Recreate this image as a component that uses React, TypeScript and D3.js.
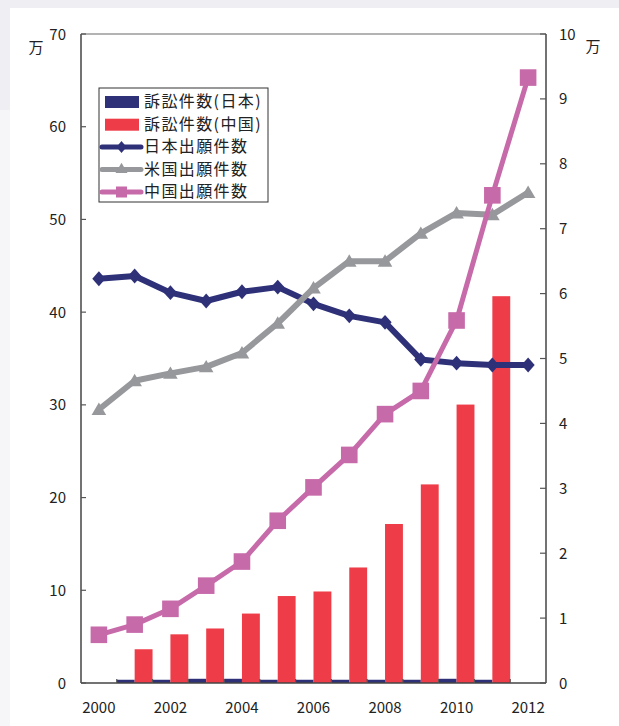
import React from "react";
import * as d3 from "d3";

const years = [2000, 2001, 2002, 2003, 2004, 2005, 2006, 2007, 2008, 2009, 2010, 2011, 2012];
// litigation counts (万, right axis); null = no bar
const suitJapan: (number | null)[] = [null, 0.05, 0.05, 0.065, 0.065, 0.05, 0.05, 0.05, 0.05, 0.05, 0.065, 0.05, null];
const suitChina: (number | null)[] = [null, 0.52, 0.75, 0.84, 1.07, 1.34, 1.41, 1.78, 2.45, 3.06, 4.29, 5.96, null];
// applications (万, left axis)
const appJapan = [43.6, 43.9, 42.1, 41.2, 42.2, 42.7, 40.9, 39.6, 38.9, 34.9, 34.5, 34.3, 34.3];
const appUS = [29.5, 32.6, 33.4, 34.1, 35.6, 38.8, 42.6, 45.5, 45.5, 48.5, 50.7, 50.5, 52.9];
const appChina = [5.2, 6.3, 8.0, 10.5, 13.1, 17.5, 21.1, 24.6, 29.0, 31.5, 39.1, 52.6, 65.3];

const leftTicks = [0, 10, 20, 30, 40, 50, 60, 70];
const rightTicks = [0, 1, 2, 3, 4, 5, 6, 7, 8, 9, 10];
const xTickLabels = [2000, 2002, 2004, 2006, 2008, 2010, 2012];

const legendLabels = ["訴訟件数(日本)", "訴訟件数(中国)", "日本出願件数", "米国出願件数", "中国出願件数"];

const NAVY = "#2e3178";
const RED = "#ee3d48";
const GRAY = "#97989c";
const PINK = "#c76aaa";
const FONT = "'Noto Sans CJK JP', 'Noto Sans', sans-serif";

const W = 619, H = 726;
const L = 81, R = 546, T = 34, B = 683;

export default function App() {
  const x = d3.scaleBand<number>().domain(years).range([L, R]).padding(0);
  const bw = x.bandwidth();
  const inner = d3.scaleBand<string>().domain(["jp", "cn"]).range([0, bw]).padding(0);
  const yL = d3.scaleLinear().domain([0, 70]).range([B, T]);
  const yR = d3.scaleLinear().domain([0, 10]).range([B, T]);
  const cx = (y: number) => (x(y) as number) + bw / 2;

  const line = (vals: number[]) =>
    d3.line<number>().x((_, i) => cx(years[i])).y((v) => yL(v))(vals) as string;

  const diamond = (px: number, py: number, w = 6.6, h = 7.4) =>
    `M${px},${py - h}L${px + w},${py}L${px},${py + h}L${px - w},${py}Z`;
  const triangle = (px: number, py: number, s = 7.3) =>
    `M${px},${py - s * 0.95}L${px + s},${py + s * 0.75}L${px - s},${py + s * 0.75}Z`;

  const legendRowsY = [102, 124.7, 147, 169.5, 192];

  return (
    <svg width={W} height={H} style={{ position: "absolute", left: 0, top: 0 }} fontFamily={FONT}>
      <rect x={0} y={0} width={W} height={H} fill="#ffffff" />
      <rect x={0} y={0} width={W} height={8} fill="#efeef3" />
      <rect x={0} y={8} width={10} height={102} fill="#efeef3" />
      <rect x={0} y={110} width={10} height={H - 110} fill="#f6f6f9" />

      {/* bars */}
      {years.map((yr, i) => {
        const x0 = x(yr) as number;
        return (
          <g key={yr}>
            {suitJapan[i] != null && (
              <rect x={x0 + (inner("jp") as number)} y={yR(suitJapan[i] as number)} width={inner.bandwidth()}
                height={B - yR(suitJapan[i] as number)} fill={NAVY} />
            )}
            {suitChina[i] != null && (
              <rect x={x0 + (inner("cn") as number)} y={yR(suitChina[i] as number)} width={inner.bandwidth()}
                height={B - yR(suitChina[i] as number)} fill={RED} />
            )}
          </g>
        );
      })}

      {/* frame */}
      <line x1={L} x2={R} y1={T} y2={T} stroke="#9a9a9a" strokeWidth={1.5} />
      <line x1={L} x2={L} y1={T} y2={B} stroke="#444" strokeWidth={1.5} />
      <line x1={R} x2={R} y1={T} y2={B} stroke="#444" strokeWidth={1.5} />
      <line x1={L} x2={R} y1={B} y2={B} stroke="#444" strokeWidth={1.5} />

      {/* x band ticks */}
      {years.slice(1).map((yr) => (
        <line key={yr} x1={x(yr) as number} x2={x(yr) as number} y1={B} y2={B - 4} stroke="#555" strokeWidth={1.2} />
      ))}

      {/* left ticks */}
      {leftTicks.map((t) => (
        <g key={"l" + t}>
          <line x1={L} x2={L + 5} y1={yL(t)} y2={yL(t)} stroke="#555" strokeWidth={1.2} />
          <text x={66} y={yL(t) + 1.5} textAnchor="end" dominantBaseline="middle" fontSize={15} fill="#222">{t}</text>
        </g>
      ))}
      {/* right ticks */}
      {rightTicks.map((t) => (
        <g key={"r" + t}>
          <line x1={R - 6} x2={R} y1={yR(t)} y2={yR(t)} stroke="#555" strokeWidth={1.2} />
          <text x={559} y={yR(t) + 1.5} textAnchor="start" dominantBaseline="middle" fontSize={15} fill="#222">{t}</text>
        </g>
      ))}
      {xTickLabels.map((yr) => (
        <text key={"x" + yr} x={cx(yr)} y={709} textAnchor="middle" dominantBaseline="middle" fontSize={15} fill="#222">{yr}</text>
      ))}
      <text x={36} y={49} textAnchor="middle" dominantBaseline="middle" fontSize={15} fill="#222">万</text>
      <text x={593} y={48} textAnchor="middle" dominantBaseline="middle" fontSize={15} fill="#222">万</text>

      {/* lines */}
      <path d={line(appJapan)} fill="none" stroke={NAVY} strokeWidth={6} strokeLinejoin="round" />
      {appJapan.map((v, i) => (
        <path key={"dj" + i} d={diamond(cx(years[i]), yL(v))} fill={NAVY} />
      ))}
      <path d={line(appUS)} fill="none" stroke={GRAY} strokeWidth={6} strokeLinejoin="round" />
      {appUS.map((v, i) => (
        <path key={"tu" + i} d={triangle(cx(years[i]), yL(v))} fill={GRAY} />
      ))}
      <path d={line(appChina)} fill="none" stroke={PINK} strokeWidth={5} strokeLinejoin="round" />
      {appChina.map((v, i) => (
        <rect key={"sc" + i} x={cx(years[i]) - 8.3} y={yL(v) - 8.3} width={16.6} height={16.6} fill={PINK} />
      ))}

      {/* legend */}
      <rect x={99} y={88} width={169} height={114} fill="#fff" stroke="#333" strokeWidth={1} />
      <rect x={105} y={legendRowsY[0] - 6} width={34} height={12} fill={NAVY} />
      <rect x={105} y={legendRowsY[1] - 6} width={34} height={12} fill={RED} />
      <line x1={102} x2={141} y1={legendRowsY[2]} y2={legendRowsY[2]} stroke={NAVY} strokeWidth={5} strokeLinecap="round" />
      <path d={diamond(121.5, legendRowsY[2], 5, 6)} fill={NAVY} />
      <line x1={102} x2={141} y1={legendRowsY[3]} y2={legendRowsY[3]} stroke={GRAY} strokeWidth={5} strokeLinecap="round" />
      <path d={triangle(121.5, legendRowsY[3] - 1, 6)} fill={GRAY} />
      <line x1={102} x2={141} y1={legendRowsY[4]} y2={legendRowsY[4]} stroke={PINK} strokeWidth={5} strokeLinecap="round" />
      <rect x={121.5 - 5.5} y={legendRowsY[4] - 5.5} width={11} height={11} fill={PINK} />
      {legendLabels.map((s, i) => (
        <text key={s} x={144} y={legendRowsY[i] + 1} dominantBaseline="middle" fontSize={16} letterSpacing={1.4} fill="#222">{s}</text>
      ))}
    </svg>
  );
}
